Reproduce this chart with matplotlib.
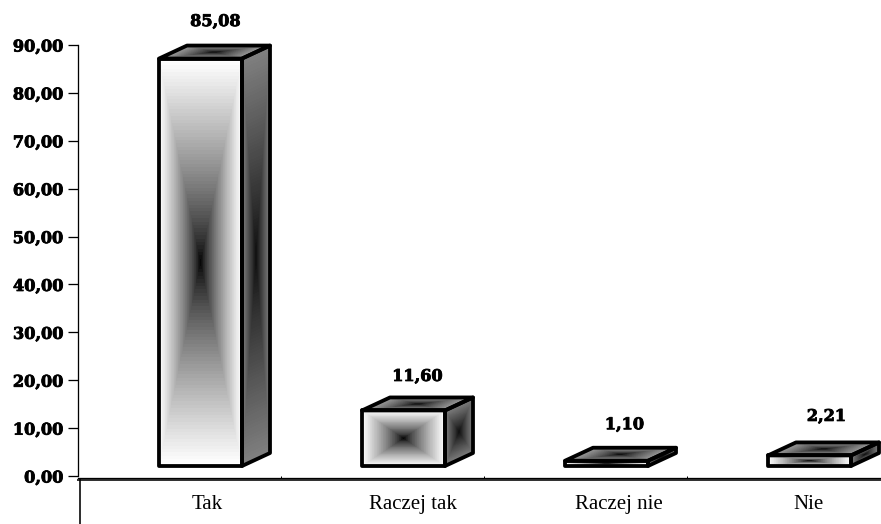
#!/usr/bin/env python3
# -*- coding: utf-8 -*-
import numpy as np
import matplotlib
matplotlib.use('Agg')
import matplotlib.pyplot as plt
import matplotlib.patheffects as pe
from matplotlib.patches import Polygon

categories = ['Tak', 'Raczej tak', 'Raczej nie', 'Nie']
values = [85.08, 11.60, 1.10, 2.21]
value_labels = ['85,08', '11,60', '1,10', '2,21']
y_ticks = [0, 10, 20, 30, 40, 50, 60, 70, 80, 90]
y_tick_labels = ['0,00', '10,00', '20,00', '30,00', '40,00', '50,00', '60,00', '70,00', '80,00', '90,00']

W, H = 881, 524
px = 72 / 100  # one pixel in points

# pixel layout of the plot box
left, right, y0, y90 = 77.5, 881, 476, 45
x_first, x_step = 200.5, 203
upp = 90 / (y0 - y90)  # data units per pixel

base = 10 * upp  # bars float above the zero line
bar_w = 83 / x_step
dx = 28 / x_step
dy = 13 * upp

# label nudges in pixels, the source chart places these unevenly
label_dx = [1, 0, 4, 3]
label_gap = [24, 21, 23, 26]
cat_px = [207, 413, 619, 808]
sep_px = [280.5, 484, 687]


def to_x(p):
    return (p - x_first) / x_step


def shade(n_u, n_v, lo, gamma, hi=1.0):
    # rectangular gradient, dark in the middle and light at the edge
    u = np.linspace(-1, 1, n_u)
    v = np.linspace(-1, 1, n_v)
    uu, vv = np.meshgrid(u, v)
    d = np.maximum(np.abs(uu), np.abs(vv))
    return lo + (hi - lo) * d ** gamma


def face(ax, p0, e1, e2, lo, gamma, hi=1.0):
    # parallelogram from corner p0 along e1 and e2, filled with the gradient
    n = 120
    s = np.linspace(0, 1, n + 1)
    t = np.linspace(0, 1, n + 1)
    ss, tt = np.meshgrid(s, t)
    X = p0[0] + ss * e1[0] + tt * e2[0]
    Y = p0[1] + ss * e1[1] + tt * e2[1]
    ax.pcolormesh(X, Y, shade(n, n, lo, gamma, hi), cmap='gray', vmin=0, vmax=1,
                  shading='flat', rasterized=True, zorder=2)


heavy = [pe.withStroke(linewidth=0.6, foreground='black')]

fig = plt.figure(figsize=(W / 100, H / 100), dpi=100)
ax = fig.add_axes([left / W, (H - y0) / H, (right - left) / W, (y0 - y90) / H])

for i, val in enumerate(values):
    xl = i - bar_w / 2
    xr = i + bar_w / 2
    top = base + val
    face(ax, (xl, base), (bar_w, 0), (0, val), 0.0, 0.75)
    face(ax, (xr, base), (dx, dy), (0, val), 0.05, 0.9, 0.5)
    face(ax, (xl, top), (bar_w, 0), (dx, dy), 0.0, 0.7, 0.62)
    outline = [[(xl, base), (xr, base), (xr, top), (xl, top)],
               [(xr, base), (xr + dx, base + dy), (xr + dx, top + dy), (xr, top)],
               [(xl, top), (xr, top), (xr + dx, top + dy), (xl + dx, top + dy)]]
    for pts in outline:
        ax.add_patch(Polygon(pts, closed=True, fill=False, ec='black', lw=3.8 * px,
                             joinstyle='round', zorder=3, clip_on=False))
    ax.annotate(value_labels[i], (i + dx / 2, top + dy),
                xytext=(label_dx[i] * px, label_gap[i] * px),
                textcoords='offset points', ha='center', va='center',
                fontfamily='DejaVu Serif', fontweight='bold', fontsize=11.6,
                annotation_clip=False, path_effects=heavy)

for s in ['top', 'right']:
    ax.spines[s].set_visible(False)
ax.spines['left'].set_linewidth(1.3 * px)
ax.spines['bottom'].set_linewidth(1.3 * px)
ax.spines['bottom'].set_position(('outward', 1.5 * px))

ax.set_yticks(y_ticks)
ax.set_yticklabels(y_tick_labels, fontfamily='DejaVu Serif', fontweight='bold', fontsize=11.6,
                   path_effects=heavy)
ax.tick_params(axis='y', length=10 * px, width=1.3 * px, pad=4 * px)

ax.set_xticks([to_x(p) for p in cat_px])
ax.set_xticklabels(categories, fontfamily='Liberation Serif', fontsize=15, va='baseline')
ax.tick_params(axis='x', which='major', length=0, pad=31.5 * px)
ax.set_xticks([to_x(p) for p in sep_px], minor=True)
ax.tick_params(axis='x', which='minor', direction='in', length=2 * px, width=1 * px)

# second rule under the axis and the stub below it
ax.axhline(-4 * upp, color='#333333', lw=2 * px, clip_on=False, zorder=1)
ax.plot([to_x(79.5)] * 2, [-3 * upp, (y0 - H) * upp], color='black',
        lw=1.6 * px, clip_on=False, solid_capstyle='butt')
ax.set_xlim(to_x(left), to_x(right))
ax.set_ylim(0, 90)

fig.savefig('out.png', dpi=100)
